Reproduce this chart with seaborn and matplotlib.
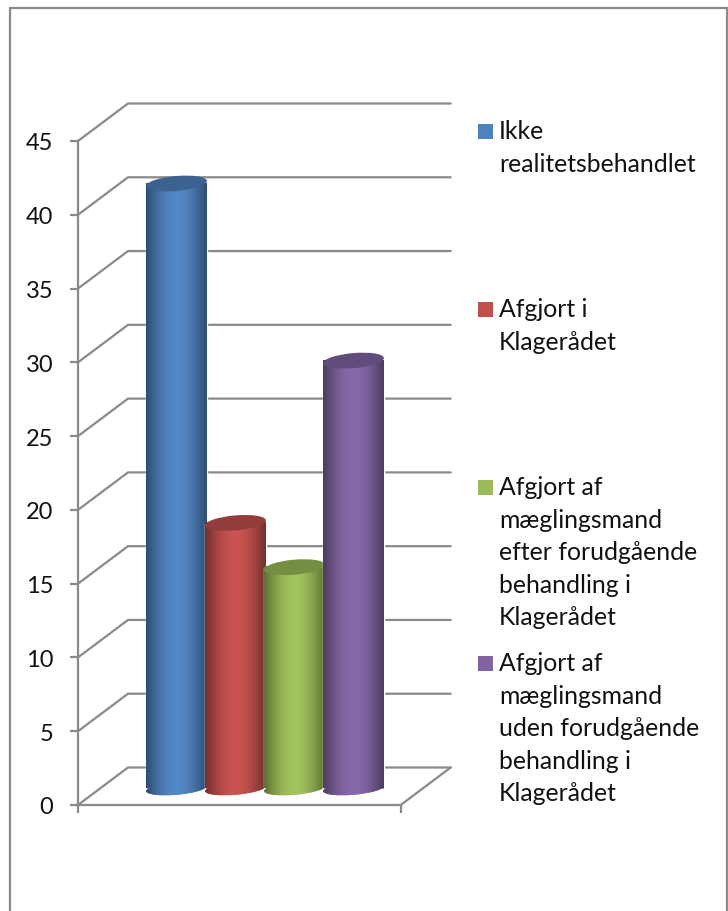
import numpy as np
import matplotlib
matplotlib.use("Agg")
import matplotlib.pyplot as plt
from matplotlib.patches import Ellipse, Rectangle
from matplotlib.lines import Line2D
from matplotlib.transforms import Affine2D
import seaborn as sns

categories = ["Ikke realitetsbehandlet", "Afgjort i Klagerådet",
              "Afgjort af mæglingsmand efter forudgående behandling i Klagerådet",
              "Afgjort af mæglingsmand uden forudgående behandling i Klagerådet"]
values = [41, 18, 15, 29]
colors = ["#4F81BD", "#C0504D", "#9BBB59", "#8064A2"]
yticks = [0, 5, 10, 15, 20, 25, 30, 35, 40, 45]
legend_labels = ["Ikke\nrealitetsbehandlet", "Afgjort i\nKlagerådet",
                 "Afgjort af\nmæglingsmand\nefter forudgående\nbehandling i\nKlagerådet",
                 "Afgjort af\nmæglingsmand\nuden forudgående\nbehandling i\nKlagerådet"]

sns.set_style("white")
plt.rcParams["font.family"] = ["Lato", "DejaVu Sans"]

W, H = 728, 911
GRID = "#8A8A8A"
TEXT = "#111111"
LW = 1.6
FS = 17.8

fig = plt.figure(figsize=(W / 100, H / 100), dpi=100, facecolor="white")
ax = fig.add_axes([78 / W, (H - 805) / H, 322.7 / W, 664 / H])
ax.patch.set_alpha(0)

px_x, px_y = 59.0, 664 / 45
xlim = ((78 - 176.5) / px_x, (400.7 - 176.5) / px_x)
ylim = (0, 45)
depth_x, depth_y = 50 / px_x, 37.5 / px_y
lift = 16.5 / px_y

sns.barplot(x=categories, y=values, hue=categories, palette=colors, dodge=False,
            width=61 / px_x, legend=False, saturation=1, ax=ax, zorder=3)
ax.set_xlim(xlim)
ax.set_ylim(ylim)
ax.set_xlabel("")
ax.set_ylabel("")

# walls and floor
for v in yticks:
    ax.plot([xlim[0], xlim[0] + depth_x, xlim[1] + depth_x], [v, v + depth_y, v + depth_y],
            color=GRID, lw=LW, clip_on=False, zorder=1, solid_joinstyle="miter")
ax.plot([xlim[1], xlim[1] + depth_x], [0, depth_y], color=GRID, lw=LW, clip_on=False, zorder=1)

for s in ["top", "right"]:
    ax.spines[s].set_visible(False)
for s in ["left", "bottom"]:
    ax.spines[s].set_color(GRID)
    ax.spines[s].set_linewidth(LW)
ax.set_yticks(yticks)
ax.set_xticks(list(xlim))
ax.set_xticklabels(["", ""])
ax.tick_params(axis="y", left=True, length=5.8, width=LW, color=GRID, pad=12, labelsize=17, labelcolor=TEXT)
ax.tick_params(axis="x", bottom=True, length=5.8, width=LW, color=GRID)
for lab in ax.get_yticklabels():
    lab.set_transform(lab.get_transform() + Affine2D().translate(0, -1))

# cylinders: the seaborn bars are shaded and capped
t = np.linspace(0, 1, 64)
shade = 0.60 + 0.45 * np.sin(np.pi * t)
bars = list(ax.patches)
for i, (bar, col, val) in enumerate(zip(bars, colors, values)):
    z = 3 + i
    bar.set_y(lift)
    bar.set_zorder(z)
    rgb = np.array(matplotlib.colors.to_rgb(col))
    strip = np.clip(shade[None, :, None] * rgb[None, None, :], 0, 1)
    x0, x1 = bar.get_x(), bar.get_x() + bar.get_width()
    cx = (x0 + x1) / 2
    ax.imshow(strip, extent=(x0, x1, lift, lift + bar.get_height()), aspect="auto",
              origin="lower", zorder=z + 0.1, interpolation="bilinear")
    bx, by = ax.transData.transform((cx, lift))
    base = Ellipse((0, 0), 61, 12.5, angle=5,
                   transform=Affine2D().translate(bx, by), facecolor=col, edgecolor="none",
                   zorder=z, clip_on=False)
    ax.add_patch(base)
    im = ax.imshow(strip, extent=(x0, x1, lift - 1, lift + 0.5), aspect="auto", origin="lower",
                   zorder=z + 0.05, interpolation="bilinear")
    im.set_clip_path(base)
    tx, ty = ax.transData.transform((cx, lift + val))
    ax.add_patch(Ellipse((0, 0), 61, 15, angle=5,
                         transform=Affine2D().translate(tx, ty),
                         facecolor=rgb * 0.76, edgecolor="none", zorder=z + 0.2, clip_on=False))
ax.set_xlim(xlim)
ax.set_ylim(ylim)

# legend
fx = lambda x: x / W
fy = lambda y: 1 - y / H
for col, lab, sy, ty in zip(colors, legend_labels, [124, 302, 480, 656], [120, 298, 476, 652]):
    fig.add_artist(Rectangle((fx(478), fy(sy + 15)), 15 / W, 15 / H, transform=fig.transFigure,
                             facecolor=col, edgecolor="none"))
    fig.text(fx(499), fy(ty), lab, ha="left", va="top", fontsize=FS, color=TEXT, linespacing=1.505)

# outer frame
for xs, ys in [([9.5, 9.5], [H, 8]), ([9.5, 727], [8, 8]), ([727, 727], [8, H])]:
    fig.add_artist(Line2D([fx(a) for a in xs], [fy(b) for b in ys], color=GRID, lw=LW,
                          transform=fig.transFigure))

fig.savefig("out.png", dpi=100, facecolor="white")
